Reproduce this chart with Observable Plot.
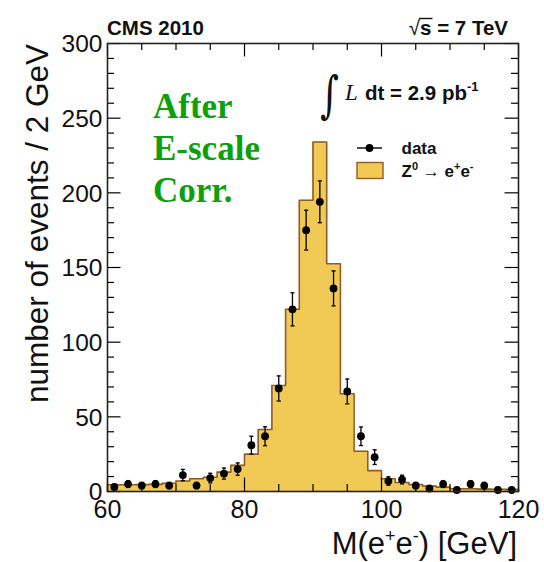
<!DOCTYPE html>
<html>
<head>
<meta charset="utf-8">
<script src="https://cdn.jsdelivr.net/npm/d3@7"></script>
<script src="https://cdn.jsdelivr.net/npm/@observablehq/plot@0.6"></script>
<style>
  html, body { margin: 0; padding: 0; background: white; }
</style>
</head>
<body>
<div id="chart"></div>
<script>
// ---- data ----
const binLowEdges = [60,62,64,66,68,70,72,74,76,78,80,82,84,86,88,90,92,94,96,98,100,102,104,106,108,110,112,114,116,118];
const binHighEdge = 120;
const mcValues = [4.5,4.5,4.6,4.8,5.5,7,8.5,9.5,13,17.5,25,41.5,71,122,195,234,152.5,65.5,27,14,8.5,6,4.7,3.6,2.9,1.8,1.8,1.6,1.5,1.4];
const dataCenters = [61,63,65,67,69,71,73,75,77,79,81,83,85,87,89,91,93,95,97,99,101,103,105,107,109,111,113,115,117,119];
const dataCounts = [3,5,4,5,4,11,4,9,12,15,31,37,69,122,175,194,136,67,37,23,7,8,4,2,5,1,5,4,1,1];
const dataErrors = [1.8,2.3,2.1,2.3,2.1,3.8,2.1,3.2,3.7,4.1,6,6.3,8.4,11.1,13.3,14,11.7,8.3,6.2,4.9,2.8,2.9,2.1,1.5,2.3,1,2.3,2.1,1,1];
const xLabelTicks = [60,80,100,120];
const xMinorTicks = [65,70,75,85,90,95,105,110,115];
const yLabelTicks = [0,50,100,150,200,250,300];
const yMinorTicks = [10,20,30,40,60,70,80,90,110,120,130,140,160,170,180,190,210,220,230,240,260,270,280,290];

// ---- derived tables ----
const mcSteps = binLowEdges.map((x, i) => ({x, y: mcValues[i]}))
  .concat([{x: binHighEdge, y: mcValues[mcValues.length - 1]}]);
const mcOutline = [{x: binLowEdges[0], y: 0}, ...mcSteps, {x: binHighEdge, y: 0}];
const pts = dataCenters.map((x, i) => ({x, y: dataCounts[i], e: dataErrors[i]}));

const W = 544, H = 562;
const mL = 107, mR = 26, mT = 43, mB = 71;
const fw = W - mL - mR, fh = H - mT - mB;

const fillC = "#f1c955", strokeC = "#8f5c2c";

const svg = Plot.plot({
  width: W, height: H,
  marginLeft: mL, marginRight: mR, marginTop: mT, marginBottom: mB,
  style: {background: "white", color: "black", fontFamily: "Liberation Sans"},
  x: {domain: [60, 120]},
  y: {domain: [0, 300]},
  marks: [
    Plot.areaY(mcSteps, {x: "x", y: "y", curve: "step-after", fill: fillC}),
    Plot.line(mcOutline, {x: "x", y: "y", curve: "step-after", stroke: strokeC, strokeWidth: 1.6}),
    Plot.ruleX(pts, {x: "x", y1: d => d.y - d.e, y2: d => d.y + d.e, stroke: "black", strokeWidth: 1.3}),
    Plot.link(pts.filter(d => d.e > 1.2), {x1: d => d.x - 0.3, x2: d => d.x + 0.3, y1: d => d.y + d.e, y2: d => d.y + d.e, stroke: "black", strokeWidth: 1.3}),
    Plot.link(pts.filter(d => d.e > 1.2), {x1: d => d.x - 0.3, x2: d => d.x + 0.3, y1: d => d.y - d.e, y2: d => d.y - d.e, stroke: "black", strokeWidth: 1.3}),
    Plot.dot(pts, {x: "x", y: "y", r: 3.9, fill: "black", stroke: "none"}),
    // inward ticks
    Plot.tickX(xMinorTicks, {x: d => d, insetTop: fh - 7, stroke: "black", strokeWidth: 1.2}),
    Plot.tickX(xMinorTicks, {x: d => d, insetBottom: fh - 7, stroke: "black", strokeWidth: 1.2}),
    Plot.tickX(xLabelTicks, {x: d => d, insetTop: fh - 13.5, stroke: "black", strokeWidth: 1.2}),
    Plot.tickX(xLabelTicks, {x: d => d, insetBottom: fh - 13.5, stroke: "black", strokeWidth: 1.2}),
    Plot.tickY(yMinorTicks, {y: d => d, insetRight: fw - 7, stroke: "black", strokeWidth: 1.2}),
    Plot.tickY(yMinorTicks, {y: d => d, insetLeft: fw - 7, stroke: "black", strokeWidth: 1.2}),
    Plot.tickY(yLabelTicks, {y: d => d, insetRight: fw - 13.5, stroke: "black", strokeWidth: 1.2}),
    Plot.tickY(yLabelTicks, {y: d => d, insetLeft: fw - 13.5, stroke: "black", strokeWidth: 1.2}),
    Plot.frame({stroke: "#222", strokeWidth: 1.6}),
    Plot.axisX(xLabelTicks, {tickSize: 0, tickPadding: 9, fontSize: 25, label: null, fill: "#111"}),
    Plot.axisY(yLabelTicks, {tickSize: 0, tickPadding: 5, fontSize: 24.5, label: null, dy: 1, fill: "#111"})
  ]
});
document.getElementById("chart").appendChild(svg);

// ---- annotations ----
const s = d3.select(svg);
const sans = "'Liberation Sans', Arial, sans-serif";
const serif = "'Liberation Serif', 'Times New Roman', serif";

function txt(x, y, opts = {}) {
  const t = s.append("text").attr("x", x).attr("y", y)
    .attr("text-anchor", opts.anchor || "start")
    .style("font-family", opts.family || sans)
    .style("font-size", (opts.size || 20) + "px")
    .style("font-weight", opts.weight || "normal")
    .style("font-style", opts.style || "normal")
    .attr("fill", opts.fill || "#111");
  return t;
}

txt(107, 34.5, {size: 20.5, weight: "bold"}).text("CMS 2010");

const sq = txt(508, 34.5, {anchor: "end", size: 20.5, weight: "bold"});
sq.append("tspan").style("font-weight", "normal").text("√");
sq.append("tspan").text("s = 7 TeV");
{
  const node = sq.node();
  const total = node.getComputedTextLength();
  const x0 = 508 - total;
  const rad = node.getSubStringLength(0, 1);
  const sw = node.getSubStringLength(1, 1);
  s.append("line").attr("x1", x0 + rad - 1).attr("x2", x0 + rad + sw + 1)
    .attr("y1", 18.5).attr("y2", 18.5).attr("stroke", "#111").attr("stroke-width", 1.4);
}

// green note
const green = "#0ca10c";
[["After", 117.7], ["E-scale", 159.5], ["Corr.", 202]].forEach(([t, y]) => {
  txt(153, y, {family: serif, weight: "bold", size: 35, fill: green}).text(t);
});

// integrated luminosity
s.append("g").attr("transform", "translate(320,112) scale(1,1.4)")
  .append("text").attr("x", 0).attr("y", 0).attr("text-anchor", "start")
  .style("font-family", "'DejaVu Serif', serif").style("font-size", "36px")
  .attr("fill", "#111").text("∫");
txt(345, 100, {family: serif, style: "italic", size: 23}).text("L");
const lum = txt(365, 100, {size: 20.5, weight: "bold"});
lum.append("tspan").text("dt = 2.9 pb");
lum.append("tspan").style("font-size", "13px").attr("dy", -9).text("-1");

// legend
s.append("line").attr("x1", 357).attr("x2", 382).attr("y1", 148).attr("y2", 148)
  .attr("stroke", "black").attr("stroke-width", 1.4);
s.append("circle").attr("cx", 369.5).attr("cy", 148).attr("r", 3.9).attr("fill", "black");
txt(401.5, 153.5, {size: 17, weight: "bold"}).text("data");
s.append("rect").attr("x", 357).attr("y", 162.5).attr("width", 26).attr("height", 16)
  .attr("fill", fillC).attr("stroke", strokeC).attr("stroke-width", 1.4);
const zl = txt(401.5, 177, {size: 17, weight: "bold"});
zl.append("tspan").text("Z");
zl.append("tspan").style("font-size", "11px").attr("dy", -7).text("0");
zl.append("tspan").style("font-weight", "normal").attr("dy", 7).text(" → ");
zl.append("tspan").text("e");
zl.append("tspan").style("font-size", "11px").attr("dy", -7).text("+");
zl.append("tspan").attr("dy", 7).text("e");
zl.append("tspan").style("font-size", "11px").attr("dy", -7).text("-");

// axis titles
s.append("text").attr("transform", "translate(48,44) rotate(-90)").attr("text-anchor", "end")
  .style("font-family", sans).style("font-size", "31.5px").attr("fill", "#111")
  .text("number of events / 2 GeV");
const xt = txt(517, 554, {anchor: "end", size: 31});
xt.append("tspan").text("M(e");
xt.append("tspan").style("font-size", "18px").attr("dy", -12).text("+");
xt.append("tspan").attr("dy", 12).text("e");
xt.append("tspan").style("font-size", "18px").attr("dy", -12).text("-");
xt.append("tspan").attr("dy", 12).text(") [GeV]");
</script>
</body>
</html>
